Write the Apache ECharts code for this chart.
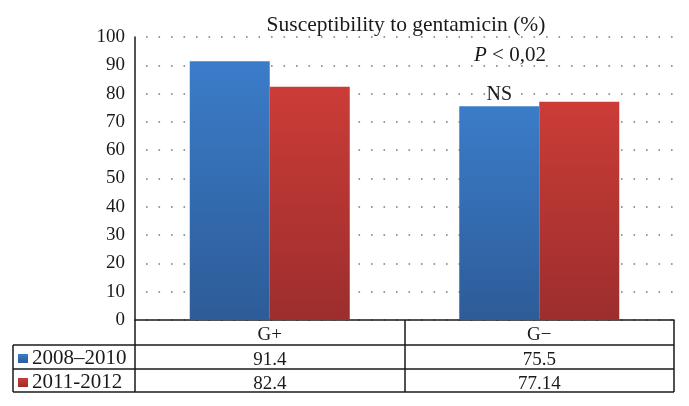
<!DOCTYPE html>
<html><head><meta charset="utf-8">
<script src="https://cdn.jsdelivr.net/npm/echarts@6/dist/echarts.min.js"></script>
<style>html,body{margin:0;padding:0;background:#fff}#c{width:689px;height:406px}</style>
</head><body><div id="c"></div>
<script>
const categories = ['G+', 'G\u2212'];
const seriesNames = ['2008\u20132010', '2011-2012'];
const values2008 = [91.4, 75.5];
const values2011 = [82.4, 77.14];
const tableText2008 = ['91.4', '75.5'];
const tableText2011 = ['82.4', '77.14'];
const yTicks = [0, 10, 20, 30, 40, 50, 60, 70, 80, 90, 100];
const titleText = 'Susceptibility to gentamicin (%)';

const FONT = '"Liberation Serif", "DejaVu Serif", serif';
const INK = '#1a1a1a';
const chart = echarts.init(document.getElementById('c'));
const grad = (a, b) => new echarts.graphic.LinearGradient(0, 0, 0, 1, [{offset: 0, color: a}, {offset: 1, color: b}]);
const blue = grad('#3b7cc9', '#2d5c98');
const red = grad('#cb3c37', '#9c2e2d');

function tableAxis(offset, texts) {
  return {
    type: 'category', data: categories, position: 'bottom', offset: offset,
    axisLine: {show: false}, axisTick: {show: false}, splitLine: {show: false},
    axisLabel: {margin: 6, fontFamily: FONT, fontSize: 19, color: INK,
      formatter: (v, i) => texts[i]}
  };
}

chart.setOption({
  animation: false,
  backgroundColor: '#fff',
  title: {text: titleText, left: 401, top: 9, textAlign: 'center',
    textStyle: {fontFamily: FONT, fontSize: 21.5, fontWeight: 'normal', color: INK}},
  legend: {
    orient: 'vertical', left: 13, top: 343, itemGap: 3, itemWidth: 10, itemHeight: 9,
    icon: 'rect', data: seriesNames,
    textStyle: {fontFamily: FONT, fontSize: 21, lineHeight: 21, color: INK, padding: [0, 0, 0, -1]}
  },
  grid: {left: 135, right: 15, top: 37, bottom: 86, containLabel: false},
  xAxis: [
    {type: 'category', data: categories, position: 'bottom',
      axisLine: {show: true, lineStyle: {color: INK, width: 1.5}},
      axisTick: {show: true, length: 72, lineStyle: {color: INK, width: 1.5}},
      axisLabel: {margin: 6, fontFamily: FONT, fontSize: 19, color: INK}},
    tableAxis(25, tableText2008),
    tableAxis(49, tableText2011)
  ],
  yAxis: {
    type: 'value', min: 0, max: 100, interval: 10,
    axisLine: {show: true, lineStyle: {color: INK, width: 1.5}},
    axisTick: {show: false},
    axisLabel: {margin: 10, fontFamily: FONT, fontSize: 19, color: INK,
      formatter: v => yTicks.includes(v) ? String(v) : ''},
    splitLine: {show: true, lineStyle: {color: '#7a7a7a', type: [1.6, 10.9], dashOffset: -11, width: 1.6}}
  },
  series: [
    {name: seriesNames[0], type: 'bar', xAxisIndex: 0, barWidth: 80, barGap: '0%',
      itemStyle: {color: blue},
      data: values2008.map((v, i) => i === 1 ? {value: v, label: {show: true, position: 'top', distance: 2,
        formatter: 'NS', fontFamily: FONT, fontSize: 20, color: INK}} : v)},
    {name: seriesNames[1], type: 'bar', xAxisIndex: 0, barWidth: 80, barGap: '0%',
      itemStyle: {color: red}, data: values2011}
  ],
  graphic: [
    {type: 'text', x: 510, y: 55, style: {text: '{i|P} {n|<} {n|0,02}', align: 'center', verticalAlign: 'middle',
      rich: {i: {fontFamily: FONT, fontSize: 21, fontStyle: 'italic', fill: INK},
             n: {fontFamily: FONT, fontSize: 21, fill: INK}},
      font: '21px ' + FONT, fill: INK}},
    {type: 'line', shape: {x1: 13, y1: 345, x2: 674, y2: 345}, style: {stroke: INK, lineWidth: 1.5}},
    {type: 'line', shape: {x1: 13, y1: 369, x2: 674, y2: 369}, style: {stroke: INK, lineWidth: 1.5}},
    {type: 'line', shape: {x1: 13, y1: 392, x2: 674, y2: 392}, style: {stroke: INK, lineWidth: 1.5}},
    {type: 'line', shape: {x1: 13, y1: 345, x2: 13, y2: 392}, style: {stroke: INK, lineWidth: 1.5}}
  ]
});
</script></body></html>
